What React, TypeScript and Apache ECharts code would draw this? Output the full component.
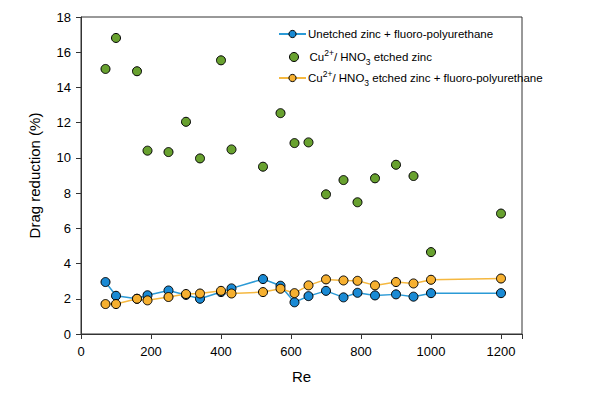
import React, { useEffect, useRef } from "react";
import * as echarts from "echarts";

const reValues = [70, 100, 160, 190, 250, 300, 340, 400, 430, 520, 570, 610, 650, 700, 750, 790, 840, 900, 950, 1000, 1200];
const unetchedFPU = [2.95, 2.17, 2.0, 2.2, 2.47, 2.22, 2.0, 2.38, 2.59, 3.12, 2.74, 1.8, 2.15, 2.45, 2.08, 2.34, 2.19, 2.25, 2.12, 2.32, 2.32];
const etchedZinc = [15.05, 16.81, 14.92, 10.41, 10.33, 12.05, 9.97, 15.54, 10.48, 9.5, 12.54, 10.84, 10.88, 7.93, 8.74, 7.48, 8.84, 9.61, 8.97, 4.65, 6.84];
const etchedFPU = [1.7, 1.7, 2.0, 1.91, 2.1, 2.27, 2.3, 2.45, 2.3, 2.38, 2.57, 2.32, 2.76, 3.1, 3.04, 3.02, 2.76, 2.95, 2.87, 3.08, 3.15];

const seriesNames = [
  "Unetched zinc + fluoro-polyurethane",
  "Cu2+ / HNO3 etched zinc",
  "Cu2+ / HNO3 etched zinc + fluoro-polyurethane",
];
const legendLabels = [
  "{a|Unetched zinc + fluoro-polyurethane}",
  "{a|Cu}{sup|2+}{a|/ HNO}{sub|3}{a| etched zinc}",
  "{a|Cu}{sup|2+}{a|/ HNO}{sub|3}{a| etched zinc + fluoro-polyurethane}",
];
const xTicks = [0, 200, 400, 600, 800, 1000, 1200];

const FONT = "'Liberation Sans', Arial, sans-serif";

function pairs(ys: number[]) {
  return reValues.map((x, i) => [x, ys[i]]);
}

export default function App() {
  const ref = useRef<HTMLDivElement>(null);
  useEffect(() => {
    if (!ref.current) return;
    const chart = echarts.init(ref.current, null, { renderer: "svg" });
    const rich = {
      a: { fontSize: 11.5, lineHeight: 18, fontFamily: FONT, color: "#000" },
      sup: { fontSize: 8.5, lineHeight: 8, verticalAlign: "top", fontFamily: FONT, color: "#000" },
      sub: { fontSize: 8.5, lineHeight: 8, verticalAlign: "bottom", fontFamily: FONT, color: "#000" },
    };
    const legendTops = [28, 48, 69];
    const legendLefts = [278, 289, 278];
    const legends = seriesNames.map((n, i) => ({
      data: [n],
      left: legendLefts[i],
      top: legendTops[i],
      orient: "vertical",
      itemWidth: 27,
      itemHeight: 9,
      itemGap: 4,
      padding: 0,
      formatter: () => legendLabels[i],
      itemStyle: { borderColor: "#000", borderWidth: 1 },
      textStyle: { rich, fontFamily: FONT, fontSize: 11.5, color: "#000", padding: [0, 0, 0, -3] },
      selectedMode: false,
    }));
    const markerBorder = { borderColor: "#000", borderWidth: 1 };
    chart.setOption({
      animation: false,
      backgroundColor: "#fff",
      textStyle: { fontFamily: FONT },
      grid: {
        left: 81,
        top: 17,
        right: 603 - 522,
        bottom: 393 - 334,
        show: true,
        borderColor: "#333",
        borderWidth: 1,
        backgroundColor: "transparent",
      },
      legend: legends,
      xAxis: {
        type: "value",
        min: 0,
        max: 1260,
        interval: 200,
        name: "Re",
        nameLocation: "middle",
        nameGap: 35,
        nameTextStyle: { fontSize: 15, color: "#000", fontFamily: FONT },
        axisLine: { lineStyle: { color: "#333", width: 1 } },
        axisTick: { show: true, length: 5, lineStyle: { color: "#333" } },
        axisLabel: {
          fontSize: 13,
          color: "#000",
          margin: 11,
          fontFamily: FONT,
          formatter: (v: number) => (xTicks.includes(v) ? String(v) : ""),
        },
        splitLine: { show: false },
      },
      yAxis: {
        type: "value",
        min: 0,
        max: 18,
        interval: 2,
        name: "Drag reduction (%)",
        nameLocation: "middle",
        nameGap: 39,
        nameTextStyle: { fontSize: 15, color: "#000", fontFamily: FONT },
        axisLine: { show: true, lineStyle: { color: "#333", width: 1 } },
        axisTick: { show: true, length: 5, lineStyle: { color: "#333" } },
        axisLabel: { fontSize: 13, color: "#000", margin: 10, fontFamily: FONT },
        splitLine: { show: false },
      },
      series: [
        {
          name: seriesNames[0],
          type: "line",
          data: pairs(unetchedFPU),
          symbol: "circle",
          symbolSize: 9,
          lineStyle: { color: "#2b9ad6", width: 1.5 },
          itemStyle: { color: "#1a8ad4", ...markerBorder },
          z: 2,
        },
        {
          name: seriesNames[1],
          type: "scatter",
          data: pairs(etchedZinc),
          symbol: "circle",
          symbolSize: 9,
          itemStyle: { color: "#68a12f", ...markerBorder, opacity: 1 },
          z: 3,
        },
        {
          name: seriesNames[2],
          type: "line",
          data: pairs(etchedFPU),
          symbol: "circle",
          symbolSize: 9,
          lineStyle: { color: "#f5b840", width: 1.5 },
          itemStyle: { color: "#f6b030", ...markerBorder },
          z: 3,
        },
      ],
    });
    return () => chart.dispose();
  }, []);
  return (
    <div
      ref={ref}
      style={{ position: "fixed", left: 0, top: 0, width: 603, height: 393 }}
    />
  );
}
